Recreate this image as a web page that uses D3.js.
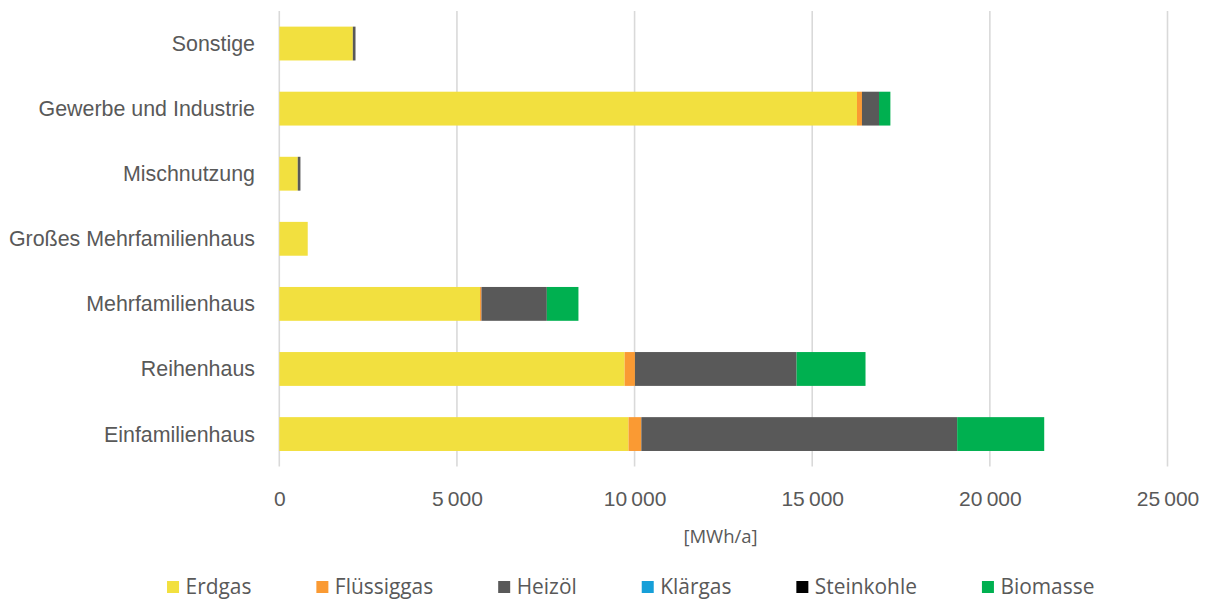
<!DOCTYPE html>
<html>
<head>
<meta charset="utf-8">
<script src="https://cdn.jsdelivr.net/npm/d3@7"></script>
<style>
  html, body { margin: 0; padding: 0; background: #ffffff; }
  svg { display: block; font-family: "Open Sans", "Noto Sans", sans-serif; }
</style>
</head>
<body>
<svg id="chart" width="1211" height="601"></svg>
<script>
// Building types, listed from top to bottom
const categories = [
  "Sonstige",
  "Gewerbe und Industrie",
  "Mischnutzung",
  "Großes Mehrfamilienhaus",
  "Mehrfamilienhaus",
  "Reihenhaus",
  "Einfamilienhaus"
];

// Energy carriers (stacked in this order)
const seriesNames = ["Erdgas", "Flüssiggas", "Heizöl", "Klärgas", "Steinkohle", "Biomasse"];
const seriesColors = ["#F2E03F", "#FA9A33", "#595959", "#169FD8", "#000000", "#00B050"];

// Heat demand per carrier in MWh/a, one value per category
const erdgas     = [2070, 16260, 520, 800, 5650, 9720, 9830];
const fluessiggas = [0, 140, 0, 0, 40, 290, 360];
const heizoel    = [75, 480, 75, 0, 1840, 4550, 8890];
const klaergas   = [0, 0, 0, 0, 0, 0, 0];
const steinkohle = [0, 0, 0, 0, 0, 0, 0];
const biomasse   = [0, 320, 0, 0, 890, 1940, 2450];

const xTicks = [0, 5000, 10000, 15000, 20000, 25000];
const axisTitle = "[MWh/a]";

const seriesValues = [erdgas, fluessiggas, heizoel, klaergas, steinkohle, biomasse];
const rows = categories.map((c, i) => {
  const r = { category: c };
  seriesNames.forEach((s, k) => { r[s] = seriesValues[k][i]; });
  return r;
});

const svg = d3.select("#chart");
const textColor = "#595959";
const gridColor = "#D9D9D9";

const plotTop = 11, plotBottom = 466.6;

const x = d3.scaleLinear()
  .domain([0, 25000])
  .range([279.3, 1167.5]);

const y = d3.scaleBand()
  .domain(categories)
  .range([plotTop, plotBottom])
  .paddingInner(0.48)
  .paddingOuter(0.24);

// vertical gridlines
svg.append("g")
  .selectAll("line")
  .data(xTicks)
  .join("line")
  .attr("x1", d => x(d)).attr("x2", d => x(d))
  .attr("y1", plotTop).attr("y2", plotBottom)
  .attr("stroke", gridColor)
  .attr("stroke-width", 1.6);

// stacked bars
const stack = d3.stack().keys(seriesNames);
const layers = stack(rows);

svg.append("g")
  .selectAll("g")
  .data(layers)
  .join("g")
  .attr("fill", (d, i) => seriesColors[i])
  .selectAll("rect")
  .data(d => d.filter(p => p[1] - p[0] > 0))
  .join("rect")
  .attr("x", d => x(d[0]))
  .attr("width", d => x(d[1]) - x(d[0]))
  .attr("y", d => y(d.data.category))
  .attr("height", y.bandwidth());

// category axis (labels only)
const yAxis = d3.axisLeft(y).tickSize(0).tickPadding(0);
const gy = svg.append("g")
  .attr("transform", `translate(255,0)`)
  .call(yAxis);
gy.select(".domain").remove();
gy.selectAll("text")
  .attr("fill", textColor)
  .style("font-size", "21.4px")
  .attr("dy", "0.35em");

// value axis (labels only)
const fmt = d => d3.format(",")(d).replace(/,/g, "\u2009");
const xAxis = d3.axisBottom(x).tickValues(xTicks).tickFormat(fmt).tickSize(0).tickPadding(0);
const gx = svg.append("g")
  .attr("transform", `translate(0,499)`)
  .call(xAxis);
gx.select(".domain").remove();
gx.selectAll("text")
  .attr("fill", textColor)
  .style("font-size", "21px")
  .attr("dy", "0.35em");

// axis title
svg.append("text")
  .attr("x", 720.5)
  .attr("y", 537)
  .attr("dy", "0.35em")
  .attr("text-anchor", "middle")
  .attr("fill", textColor)
  .style("font-size", "18.5px")
  .text(axisTitle);

// legend
const legend = svg.append("g");
const sw = 12, textOffset = 18.5, gap = 65;
let cursor = 0;
seriesNames.forEach((name, i) => {
  const g = legend.append("g").attr("transform", `translate(${cursor},0)`);
  g.append("rect")
    .attr("x", 0).attr("y", -sw / 2)
    .attr("width", sw).attr("height", sw)
    .attr("fill", seriesColors[i]);
  const t = g.append("text")
    .attr("x", textOffset).attr("y", 0)
    .attr("dy", "0.35em")
    .attr("fill", textColor)
    .style("font-size", "20.9px")
    .text(name);
  const w = t.node().getComputedTextLength();
  cursor += textOffset + w + gap;
});
const legendWidth = cursor - gap;
legend.attr("transform", `translate(${630.7 - legendWidth / 2},587)`);
</script>
</body>
</html>
